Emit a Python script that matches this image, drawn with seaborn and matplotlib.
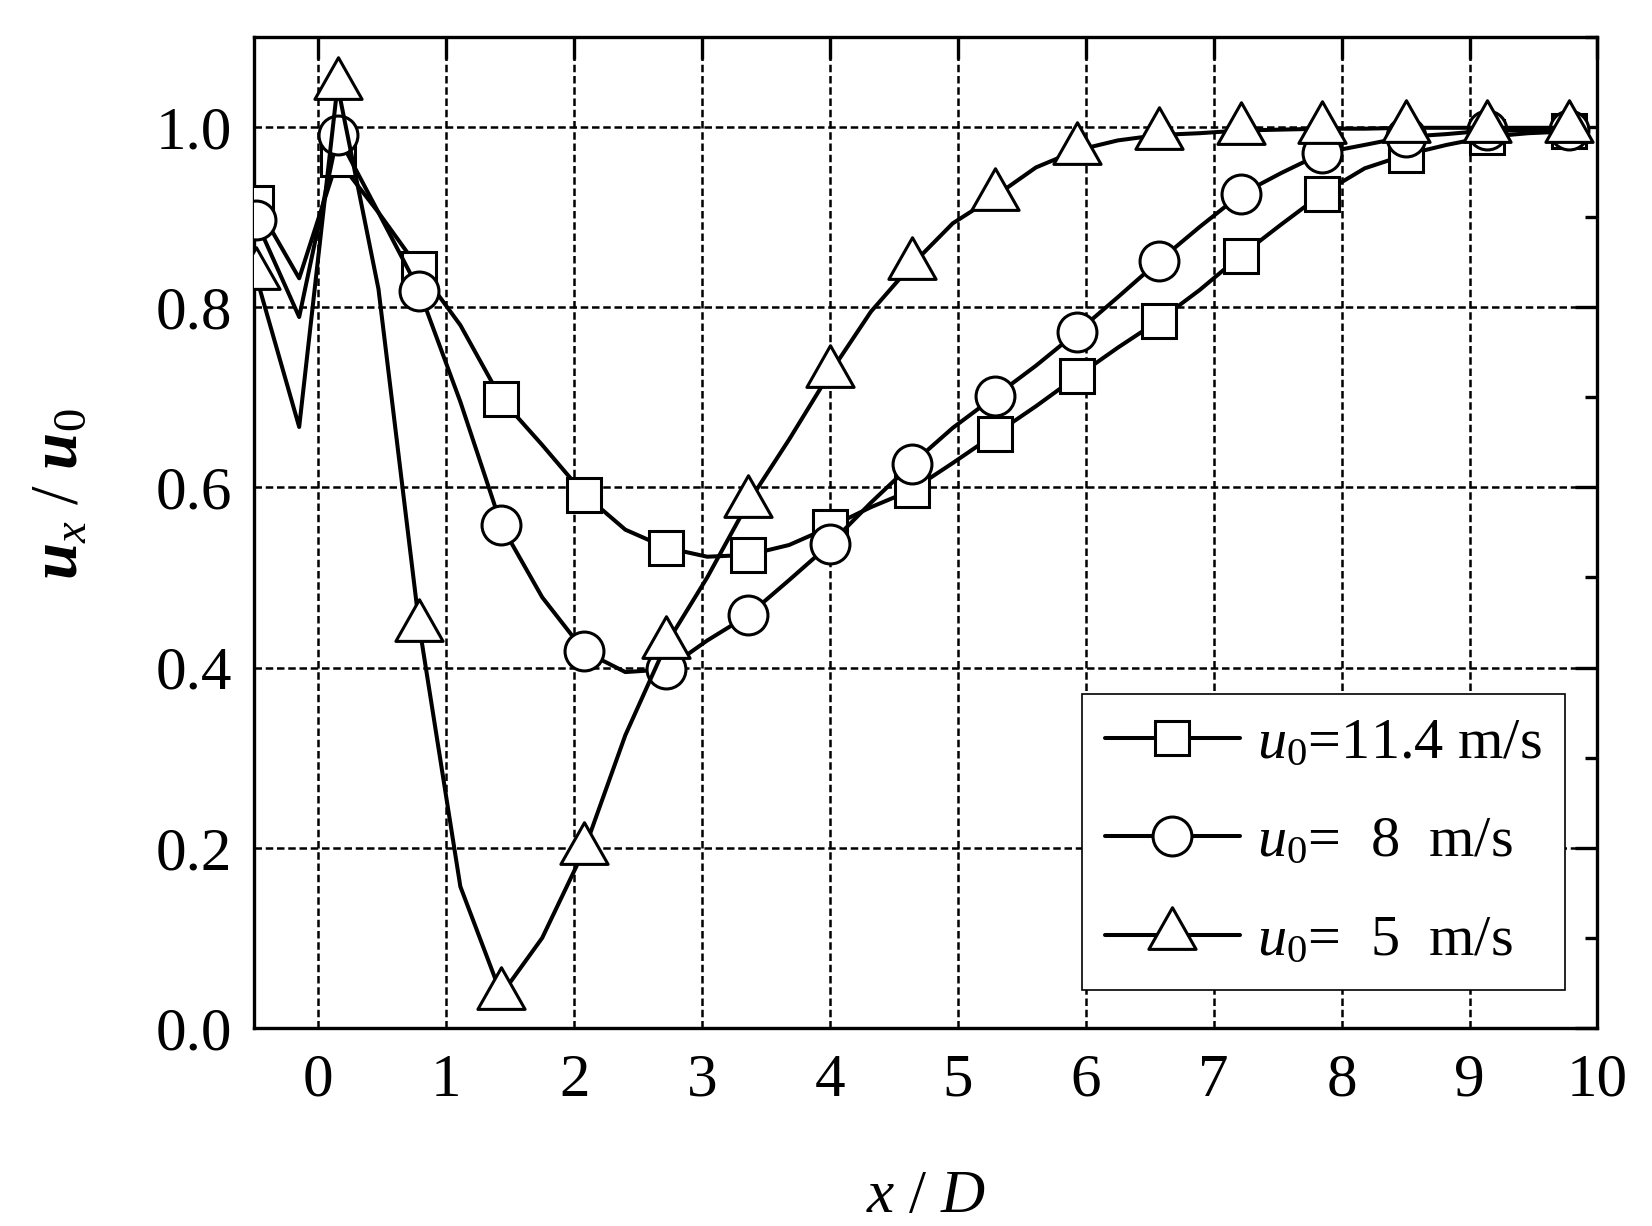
import numpy as np
import pandas as pd
import seaborn as sns
import matplotlib.pyplot as plt
from matplotlib.lines import Line2D
from matplotlib.path import Path
from matplotlib.ticker import MultipleLocator, FormatStrFormatter

# x/D stations: markers sit on every other point, the in-between points shape the curve
x_line = [-0.49, -0.15, 0.15, 0.47, 0.79, 1.11, 1.43, 1.75, 2.08, 2.40, 2.72,
          3.04, 3.36, 3.68, 4.00, 4.32, 4.64, 4.96, 5.29, 5.61, 5.93, 6.25,
          6.57, 6.89, 7.21, 7.53, 7.85, 8.18, 8.50, 8.82, 9.14, 9.46, 9.78]

# u_x/u_0 for u0 = 11.4 m/s
u_114 = [0.916, 0.832, 0.964, 0.905, 0.842, 0.780, 0.698, 0.647, 0.592, 0.553, 0.533,
         0.523, 0.525, 0.536, 0.556, 0.578, 0.597, 0.627, 0.659, 0.690, 0.723, 0.755,
         0.785, 0.819, 0.857, 0.892, 0.926, 0.954, 0.969, 0.980, 0.989, 0.993, 0.995]

# u0 = 8 m/s
u_8 = [0.897, 0.789, 0.991, 0.905, 0.818, 0.695, 0.558, 0.478, 0.418, 0.395, 0.398,
       0.430, 0.458, 0.497, 0.537, 0.583, 0.626, 0.666, 0.701, 0.735, 0.772, 0.811,
       0.851, 0.889, 0.925, 0.949, 0.971, 0.980, 0.989, 0.992, 0.996, 0.996, 0.996]

# u0 = 5 m/s
u_5 = [0.836, 0.667, 1.046, 0.820, 0.445, 0.157, 0.037, 0.100, 0.198, 0.325, 0.426,
       0.500, 0.583, 0.653, 0.727, 0.795, 0.847, 0.893, 0.923, 0.955, 0.974, 0.985,
       0.991, 0.993, 0.996, 0.997, 0.998, 0.998, 0.999, 0.999, 0.999, 0.999, 0.999]

labels = [r'$u_{\mathit{0}}$=11.4 m/s',
          r'$u_{\mathit{0}}$=  8  m/s',
          r'$u_{\mathit{0}}$=  5  m/s']

sns.set_style('white')
plt.rcParams['font.family'] = ['Liberation Serif', 'DejaVu Serif']
plt.rcParams['mathtext.fontset'] = 'custom'
plt.rcParams['mathtext.rm'] = 'Liberation Serif'
plt.rcParams['mathtext.it'] = 'Liberation Serif:italic'
plt.rcParams['mathtext.bf'] = 'Liberation Serif:bold'
plt.rcParams['mathtext.bfit'] = 'Liberation Serif:bold:italic'
for k in ['text.color', 'axes.labelcolor', 'xtick.color', 'ytick.color']:
    plt.rcParams[k] = 'black'

df = pd.DataFrame({'x': x_line, 'sq': u_114, 'ci': u_8, 'tr': u_5})

# closed triangle centred on its centroid, like the original software does
tri = Path([(0, 1), (-0.85, -0.5), (0.85, -0.5), (0, 1)],
           [Path.MOVETO, Path.LINETO, Path.LINETO, Path.CLOSEPOLY])
styles = [('sq', 's', 12.5), ('ci', 'o', 14), ('tr', tri, 20)]

fig, ax = plt.subplots(figsize=(8.26, 6.13), dpi=200)
fig.subplots_adjust(left=0.154, right=0.967, bottom=0.1615, top=0.970)

handles = []
for (col, mk, ms), lab in zip(styles, labels):
    sns.lineplot(data=df, x='x', y=col, ax=ax, color='black', linewidth=1.45,
                 marker=mk, markersize=ms, markevery=2, markerfacecolor='white',
                 markeredgecolor='black', markeredgewidth=1.1, errorbar=None, zorder=3)
    handles.append(Line2D([], [], color='black', lw=1.45, marker=mk, markersize=ms,
                          mfc='white', mec='black', mew=1.1))

ax.set_xlim(-0.5, 10)
ax.set_ylim(0, 1.1)
ax.xaxis.set_major_locator(MultipleLocator(1))
ax.yaxis.set_major_locator(MultipleLocator(0.2))
ax.yaxis.set_minor_locator(MultipleLocator(0.1))
ax.yaxis.set_major_formatter(FormatStrFormatter('%.1f'))

ax.grid(True, which='major', color='black', linestyle=(0, (3, 1.5)), linewidth=0.9)
ax.tick_params(which='both', direction='in', top=True, right=True, width=1.2,
               labelsize=22, color='black')
ax.tick_params(which='major', length=8)
ax.tick_params(which='minor', length=4.5)
ax.tick_params(axis='x', pad=9)
ax.tick_params(axis='y', pad=8)
for s in ax.spines.values():
    s.set_linewidth(1.2)
    s.set_color('black')

ax.set_xlabel(r'$x\ /\ D$', fontsize=22)
ax.set_ylabel(r'$\mathbfit{u}_{x}\ /\ \mathbfit{u}_{\mathit{0}}$', fontsize=24)
ax.xaxis.set_label_coords(0.5, -0.143)
ax.yaxis.set_label_coords(-0.122, 0.538)

leg = ax.legend(handles, labels, loc='lower right', bbox_to_anchor=(0.976, 0.038),
                fontsize=21, frameon=True, fancybox=False, edgecolor='black',
                framealpha=1, handlelength=2.3, handletextpad=0.3, labelspacing=0.78,
                borderpad=0.4, borderaxespad=0)
leg.get_frame().set_linewidth(0.6)

fig.savefig('out.png', dpi=200)
